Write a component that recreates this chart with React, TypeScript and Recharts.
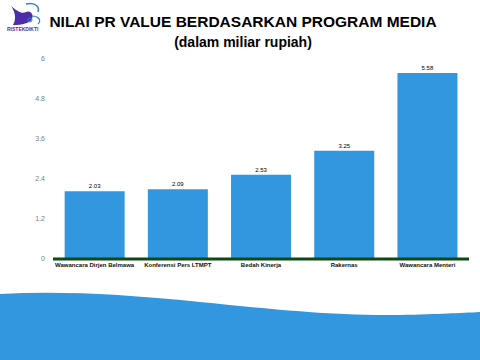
import React from 'react';
import { BarChart, Bar, XAxis, YAxis, LabelList } from 'recharts';

const categories = ['Wawancara Dirjen Belmawa', 'Konferensi Pers  LTMPT', 'Bedah Kinerja', 'Rakernas', 'Wawancara Menteri'];
const values = [2.03, 2.09, 2.53, 3.25, 5.58];
const yTicks = [0, 1.2, 2.4, 3.6, 4.8, 6];

const data = categories.map((name, i) => ({ name, value: values[i] }));

const Logo = () => (
  <svg width={44} height={36} style={{ position: 'absolute', left: 4, top: 0 }}>
    <path d="M7 6 C14 12 18 14 22 12 C26 10 30 14 28 19 C26 23 18 25 9 25 C12 20 12 13 7 6 Z" fill="#4a2fa8" />
    <path d="M22 4 C30 2 36 6 34 12" stroke="#2e7fd6" strokeWidth={1.5} fill="none" />
    <path d="M28 16 C34 16 38 20 34 24" stroke="#2e7fd6" strokeWidth={1.2} fill="none" />
    <circle cx={26} cy={20} r={2} fill="none" stroke="#2e7fd6" strokeWidth={1} />
    <text x={3} y={31} fontSize={5} fill="#4a2fa8" fontFamily="Liberation Sans, Arial" fontWeight="bold">RISTEKDIKTI</text>
  </svg>
);

export default function App() {
  return (
    <div style={{ position: 'fixed', left: 0, top: 0, width: 480, height: 360, background: '#fff', overflow: 'hidden', fontFamily: 'Liberation Sans, Arial, sans-serif' }}>
      <svg width={480} height={360} style={{ position: 'absolute', left: 0, top: 0 }}>
        <path d="M0 294 C60 291 120 294 200 302 C280 310 340 316 400 315 C440 314 460 313 480 312 L480 360 L0 360 Z" fill="#3397e0" />
      </svg>
      <Logo />
      <div style={{ position: 'absolute', left: 0, top: 13, width: 486, textAlign: 'center', fontWeight: 'bold', fontSize: 15.5, color: '#000' }}>
        NILAI PR VALUE BERDASARKAN PROGRAM MEDIA
      </div>
      <div style={{ position: 'absolute', left: 0, top: 34, width: 486, textAlign: 'center', fontWeight: 'bold', fontSize: 14, color: '#000' }}>
        (dalam miliar rupiah)
      </div>
      <div style={{ position: 'absolute', left: 0, top: 0 }}>
        <BarChart width={480} height={360} data={data} margin={{ top: 59, right: 11, left: 0, bottom: 0 }} barCategoryGap="14%">
          <XAxis
            dataKey="name"
            height={101}
            interval={0}
            tickLine={false}
            tickSize={2}
            tickMargin={2}
            stroke="#0b4a10"
            axisLine={{ stroke: '#0b4a10', strokeWidth: 3 }}
            tick={{ fontSize: 6, fontWeight: 'bold', fill: '#111' }}
          />
          <YAxis
            width={53}
            domain={[0, 6]}
            ticks={yTicks}
            axisLine={false}
            tickLine={false}
            stroke="#888"
            tick={{ fontSize: 7, fill: '#808080' }}
          />
          <Bar dataKey="value" fill="#3397e0" isAnimationActive={false}>
            <LabelList dataKey="value" position="top" offset={3} style={{ fontSize: 6, fill: '#000' }} formatter={(v: number) => v.toFixed(2)} />
          </Bar>
        </BarChart>
      </div>
    </div>
  );
}
